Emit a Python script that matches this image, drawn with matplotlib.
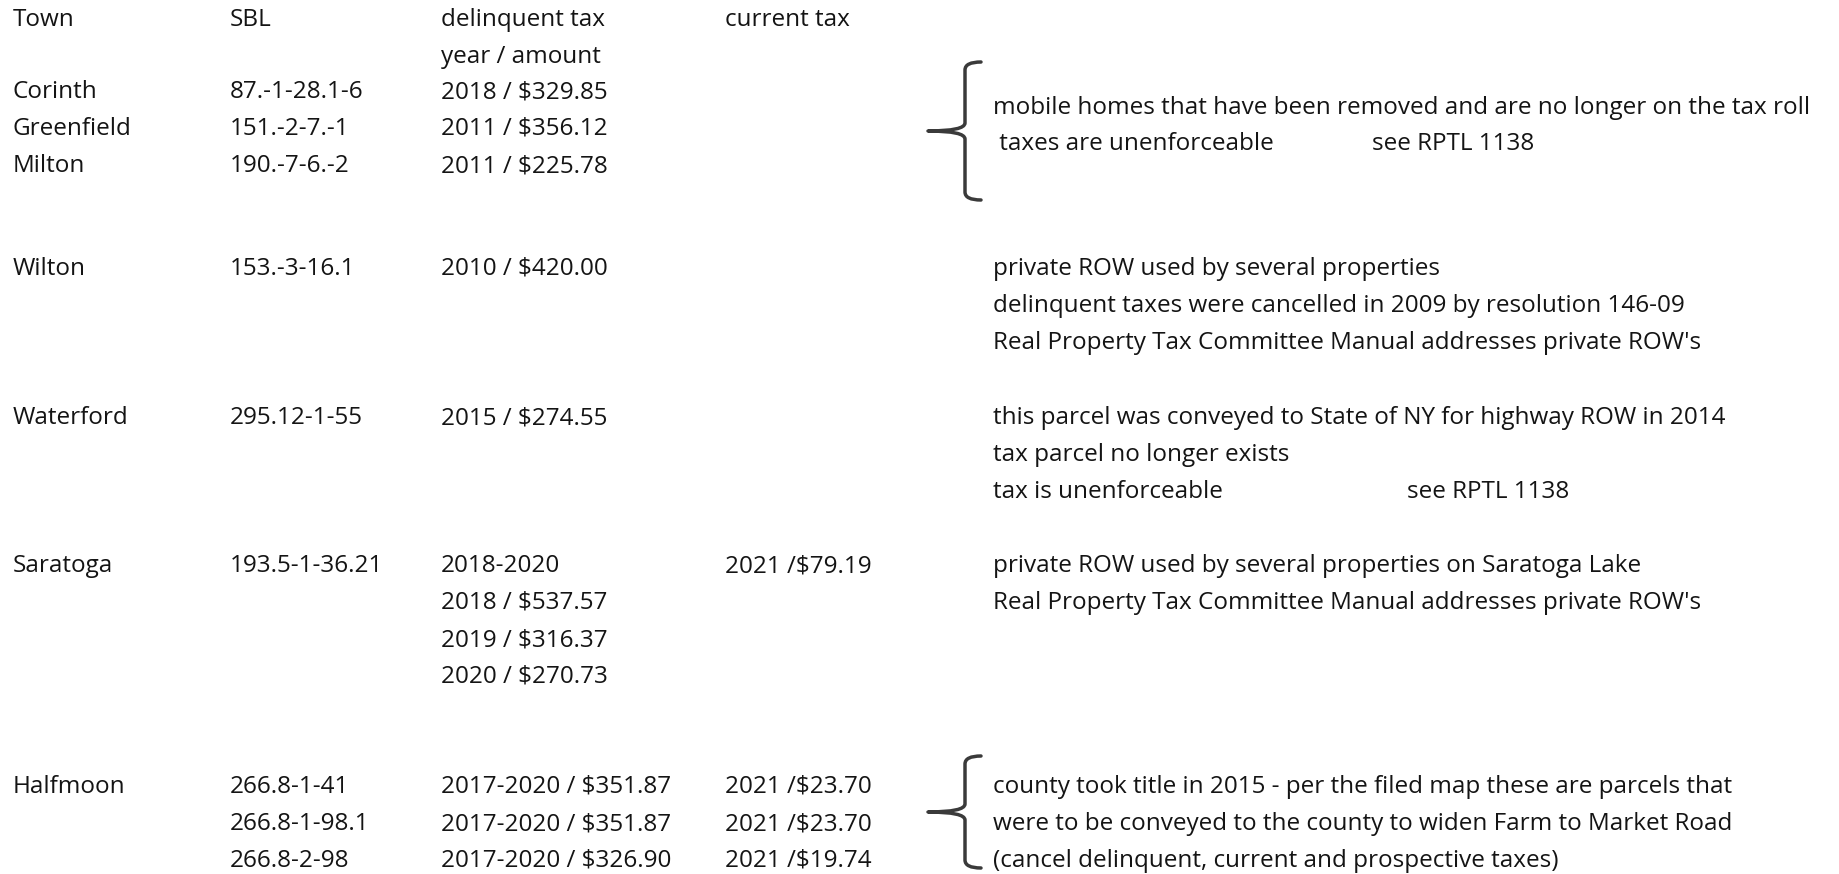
import matplotlib.pyplot as plt
from matplotlib.path import Path
from matplotlib.patches import PathPatch

plt.rcParams['font.family'] = ['Open Sans', 'Lato', 'DejaVu Sans']

# column headers
headers = ["Town", "SBL", "delinquent tax", "current tax"]
header2 = "year / amount"

# table rows: (town, sbl, delinquent lines, current tax)
towns = ["Corinth", "Greenfield", "Milton", "Wilton", "Waterford", "Saratoga",
         "Halfmoon", "", ""]
sbls = ["87.-1-28.1-6", "151.-2-7.-1", "190.-7-6.-2", "153.-3-16.1", "295.12-1-55",
        "193.5-1-36.21", "266.8-1-41", "266.8-1-98.1", "266.8-2-98"]
delinquent = [["2018 / $329.85"], ["2011 / $356.12"], ["2011 / $225.78"],
              ["2010 / $420.00"], ["2015 / $274.55"],
              ["2018-2020", "2018 / $537.57", "2019 / $316.37", "2020 / $270.73"],
              ["2017-2020 / $351.87"], ["2017-2020 / $351.87"], ["2017-2020 / $326.90"]]
current = ["", "", "", "", "", "2021 /$79.19", "2021 /$23.70", "2021 /$23.70",
           "2021 /$19.74"]
row_y = [92, 129, 166, 269, 418, 566, 787, 824, 861]

# notes
notes = [
    ("mobile homes that have been removed and are no longer on the tax roll", 993, 108),
    (" taxes are unenforceable", 993, 144),
    ("see RPTL 1138", 1372, 144),
    ("private ROW used by several properties", 993, 269),
    ("delinquent taxes were cancelled in 2009 by resolution 146-09", 993, 306),
    ("Real Property Tax Committee Manual addresses private ROW's", 993, 343),
    ("this parcel was conveyed to State of NY for highway ROW in 2014", 993, 418),
    ("tax parcel no longer exists", 993, 455),
    ("tax is unenforceable", 993, 492),
    ("see RPTL 1138", 1407, 492),
    ("private ROW used by several properties on Saratoga Lake", 993, 566),
    ("Real Property Tax Committee Manual addresses private ROW's", 993, 603),
    ("county took title in 2015 - per the filed map these are parcels that", 993, 787),
    ("were to be conveyed to the county to widen Farm to Market Road", 993, 824),
    ("(cancel delinquent, current and prospective taxes)", 993, 861),
]

col_x = [13, 230, 441, 725]
line_h = 37
fs = 17.5
tc = "#141414"

fig = plt.figure(figsize=(18.39, 8.74), dpi=100)
ax = fig.add_axes([0, 0, 1, 1])
ax.set_xlim(0, 1839)
ax.set_ylim(874, 0)
ax.axis("off")

for x, h in zip(col_x, headers):
    ax.text(x, 20, h, fontsize=fs, color=tc, va="center")
ax.text(col_x[2], 57, header2, fontsize=fs, color=tc, va="center")

for i, y in enumerate(row_y):
    ax.text(col_x[0], y, towns[i], fontsize=fs, color=tc, va="center")
    ax.text(col_x[1], y, sbls[i], fontsize=fs, color=tc, va="center")
    for k, d in enumerate(delinquent[i]):
        ax.text(col_x[2], y + k * line_h, d, fontsize=fs, color=tc, va="center")
    ax.text(col_x[3], y, current[i], fontsize=fs, color=tc, va="center")

for s, x, y in notes:
    ax.text(x, y, s, fontsize=fs, color=tc, va="center")


def brace(top, bottom, xv=965, xr=981, xp=928):
    mid = (top + bottom) / 2
    verts = [(xr, top), (xv, top), (xv, top + 8),
             (xv, mid - 8), (xv, mid), (xp, mid),
             (xv, mid), (xv, mid + 8),
             (xv, bottom - 8), (xv, bottom), (xr, bottom)]
    codes = [Path.MOVETO, Path.CURVE3, Path.CURVE3,
             Path.LINETO, Path.CURVE3, Path.CURVE3,
             Path.CURVE3, Path.CURVE3,
             Path.LINETO, Path.CURVE3, Path.CURVE3]
    ax.add_patch(PathPatch(Path(verts, codes), fill=False, lw=2.5, ec="#3a3a3a",
                           capstyle="round", joinstyle="round"))


brace(62, 200)
brace(756, 868)

fig.savefig("out.png", dpi=100, facecolor="white")
